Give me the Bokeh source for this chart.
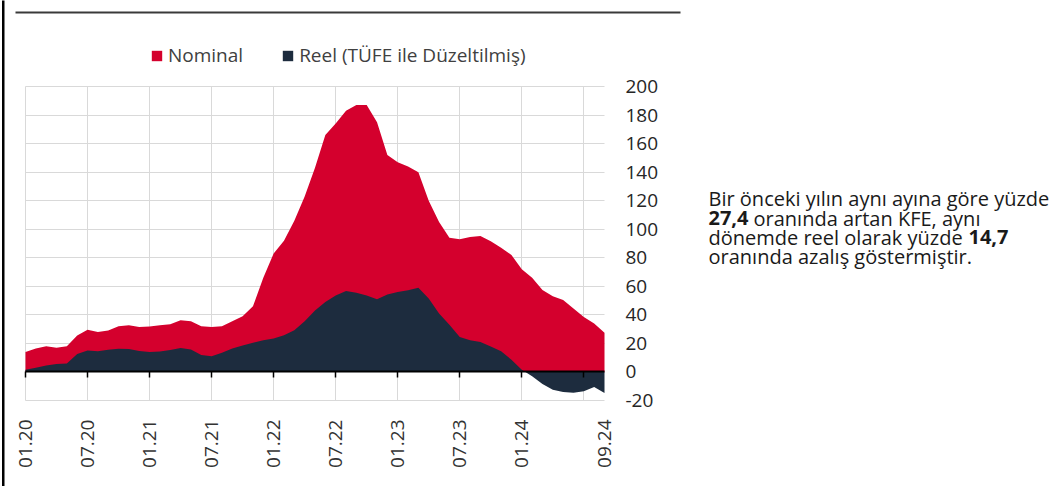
import math
from bokeh.plotting import figure
from bokeh.models import (Range1d, FixedTicker, Label, BoxAnnotation, Legend,
                          LegendItem, LinearAxis, Grid)
from bokeh.embed import file_html
from bokeh.resources import INLINE

# ---------------- data ----------------
months = list(range(57))  # 0 = 01.2020 ... 56 = 09.2024
nominal = [14, 16.5, 18, 17, 18, 25.5, 29.5, 28, 29, 32,
           32.7, 31.5, 31.8, 32.7, 33.5, 36.3, 35.5, 32, 31.5, 32,
           35.5, 39, 46, 66, 83, 92, 106, 123, 143, 166,
           174, 183, 187, 187, 175, 152, 147, 144, 140, 120,
           105, 94, 93, 94.6, 95.3, 91.5, 87, 82, 72, 66,
           57.5, 53, 50.5, 44.5, 38.5, 34, 27.4]
real = [1.5, 3, 4.5, 5.5, 6, 12.5, 15, 14.5, 15.5, 16.3,
        16, 14.7, 14, 14.3, 15.3, 16.8, 15.7, 11.8, 11, 13.5,
        16.5, 18.5, 20.5, 22.2, 23.4, 25.7, 29.2, 35.5, 43, 49,
        53.5, 56.8, 55.5, 53.5, 51, 54.2, 56, 57.3, 59, 51.5,
        41, 33, 24.5, 22.2, 21, 17.8, 14.5, 8.5, 1.5, -3,
        -8.5, -12.5, -14, -14.5, -13.5, -10.5, -14.7]
tick_months = [0, 6, 12, 18, 24, 30, 36, 42, 48, 56]
tick_labels = ["01.20", "07.20", "01.21", "07.21", "01.22", "07.22",
               "01.23", "07.23", "01.24", "09.24"]
grid_months = [0, 6, 12, 18, 24, 30, 36, 42, 48, 54]
y_ticks = list(range(-20, 201, 20))
series_names = ["Nominal", "Reel (TÜFE ile Düzeltilmiş)"]

RED = "#D4002D"
NAVY = "#1D2C3E"
FONT = "Open Sans"

# ---------------- geometry (page px) ----------------
W, H = 1054, 486
PL, PR, PT, PB = 25, 604, 86, 400       # where the data box sits on the page
X0, X1, Y0, Y1 = months[0], months[-1], y_ticks[0], y_ticks[-1]
sx = (PR - PL) / (X1 - X0)
sy = (PB - PT) / (Y1 - Y0)


def dx(px):
    return X0 + (px - PL) / sx


def dy(py):
    return Y1 - (py - PT) / sy


p = figure(width=W, height=H, output_backend="svg", toolbar_location=None,
           x_range=Range1d(dx(0), dx(W)), y_range=Range1d(dy(H), dy(0)),
           x_axis_location=None, y_axis_location=None,
           min_border=0, min_border_left=0, min_border_right=0,
           min_border_top=0, min_border_bottom=0)
p.center = []  # drop the default full-canvas grids
p.outline_line_color = None
p.background_fill_color = "white"
p.border_fill_color = "white"

# grids, limited to the data box
p.add_layout(Grid(dimension=0, ticker=FixedTicker(ticks=grid_months),
                  cross_bounds=(Y0, Y1), grid_line_color="#D9D9D9", grid_line_width=1))
p.add_layout(Grid(dimension=1, ticker=FixedTicker(ticks=y_ticks),
                  cross_bounds=(X0, X1), grid_line_color="#D9D9D9", grid_line_width=1))

# areas
r_nom = p.varea(x=months, y1=0, y2=nominal, fill_color=RED)
r_real = p.varea(x=months, y1=0, y2=real, fill_color=NAVY)

# zero axis (line + ticks, no labels)
zero_ax = LinearAxis(fixed_location=0, ticker=FixedTicker(ticks=grid_months),
                     bounds=(X0, X1), axis_line_color="black", axis_line_width=2,
                     major_tick_line_color="black", major_tick_line_width=1.5,
                     major_tick_out=6, major_tick_in=0, minor_tick_line_color=None,
                     major_label_text_alpha=0, major_label_text_font_size="1px")
p.add_layout(zero_ax, "below")

# x labels axis at the bottom of the data box
xa = LinearAxis(fixed_location=Y0, ticker=FixedTicker(ticks=tick_months),
                major_label_overrides={m: l for m, l in zip(tick_months, tick_labels)},
                major_label_orientation=math.pi / 2,
                axis_line_color=None, major_tick_line_color=None,
                minor_tick_line_color=None, major_tick_out=0, major_tick_in=0,
                major_label_standoff=19, major_label_text_font=FONT,
                major_label_text_font_size="19px", major_label_text_color="#333333")
p.add_layout(xa, "below")

# y axis on the right of the data box
ya = LinearAxis(fixed_location=X1, ticker=FixedTicker(ticks=y_ticks),
                major_label_overrides={-20: "-20"},
                axis_line_color=None, major_tick_line_color=None,
                minor_tick_line_color=None, major_tick_out=0, major_tick_in=0,
                major_label_standoff=21, major_label_text_font=FONT,
                major_label_text_font_size="19px", major_label_text_color="#262626")
p.add_layout(ya, "right")

# legend
legend = Legend(items=[LegendItem(label=series_names[0], renderers=[r_nom]),
                       LegendItem(label=series_names[1], renderers=[r_real])],
                orientation="horizontal", location=(150, H - 68))
legend.border_line_alpha = 0
legend.background_fill_alpha = 0
legend.padding = 0
legend.margin = 0
legend.glyph_width = 13
legend.glyph_height = 13
legend.label_standoff = 5
legend.spacing = 38
legend.label_text_font = FONT
legend.label_text_font_size = "19px"
legend.label_text_color = "#404040"
p.add_layout(legend)

# frame decorations
p.add_layout(BoxAnnotation(left=dx(15), right=dx(680), top=dy(11), bottom=dy(13),
                           fill_color="#3A3A3A", fill_alpha=1, line_alpha=0))
p.add_layout(BoxAnnotation(left=dx(1.5), right=dx(4), top=dy(-5), bottom=dy(H + 5),
                           fill_color="black", fill_alpha=1, line_alpha=0))

# right-hand paragraph
para = [
    (708, 198, "Bir önceki yılın aynı ayına göre yüzde", "normal"),
    (708, 217.5, "27,4", "bold"),
    (753, 217.5, "oranında artan KFE, aynı", "normal"),
    (708, 236.5, "dönemde reel olarak yüzde", "normal"),
    (968, 236.5, "14,7", "bold"),
    (708, 255.5, "oranında azalış göstermiştir.", "normal"),
]
for px_, py_, txt, style in para:
    p.add_layout(Label(x=dx(px_), y=dy(py_), text=txt, text_font=FONT,
                       text_font_size="20px", text_font_style=style,
                       text_color="#1A1A1A", text_baseline="alphabetic",
                       text_align="left"))

open("out.html", "w").write(file_html(p, INLINE))
